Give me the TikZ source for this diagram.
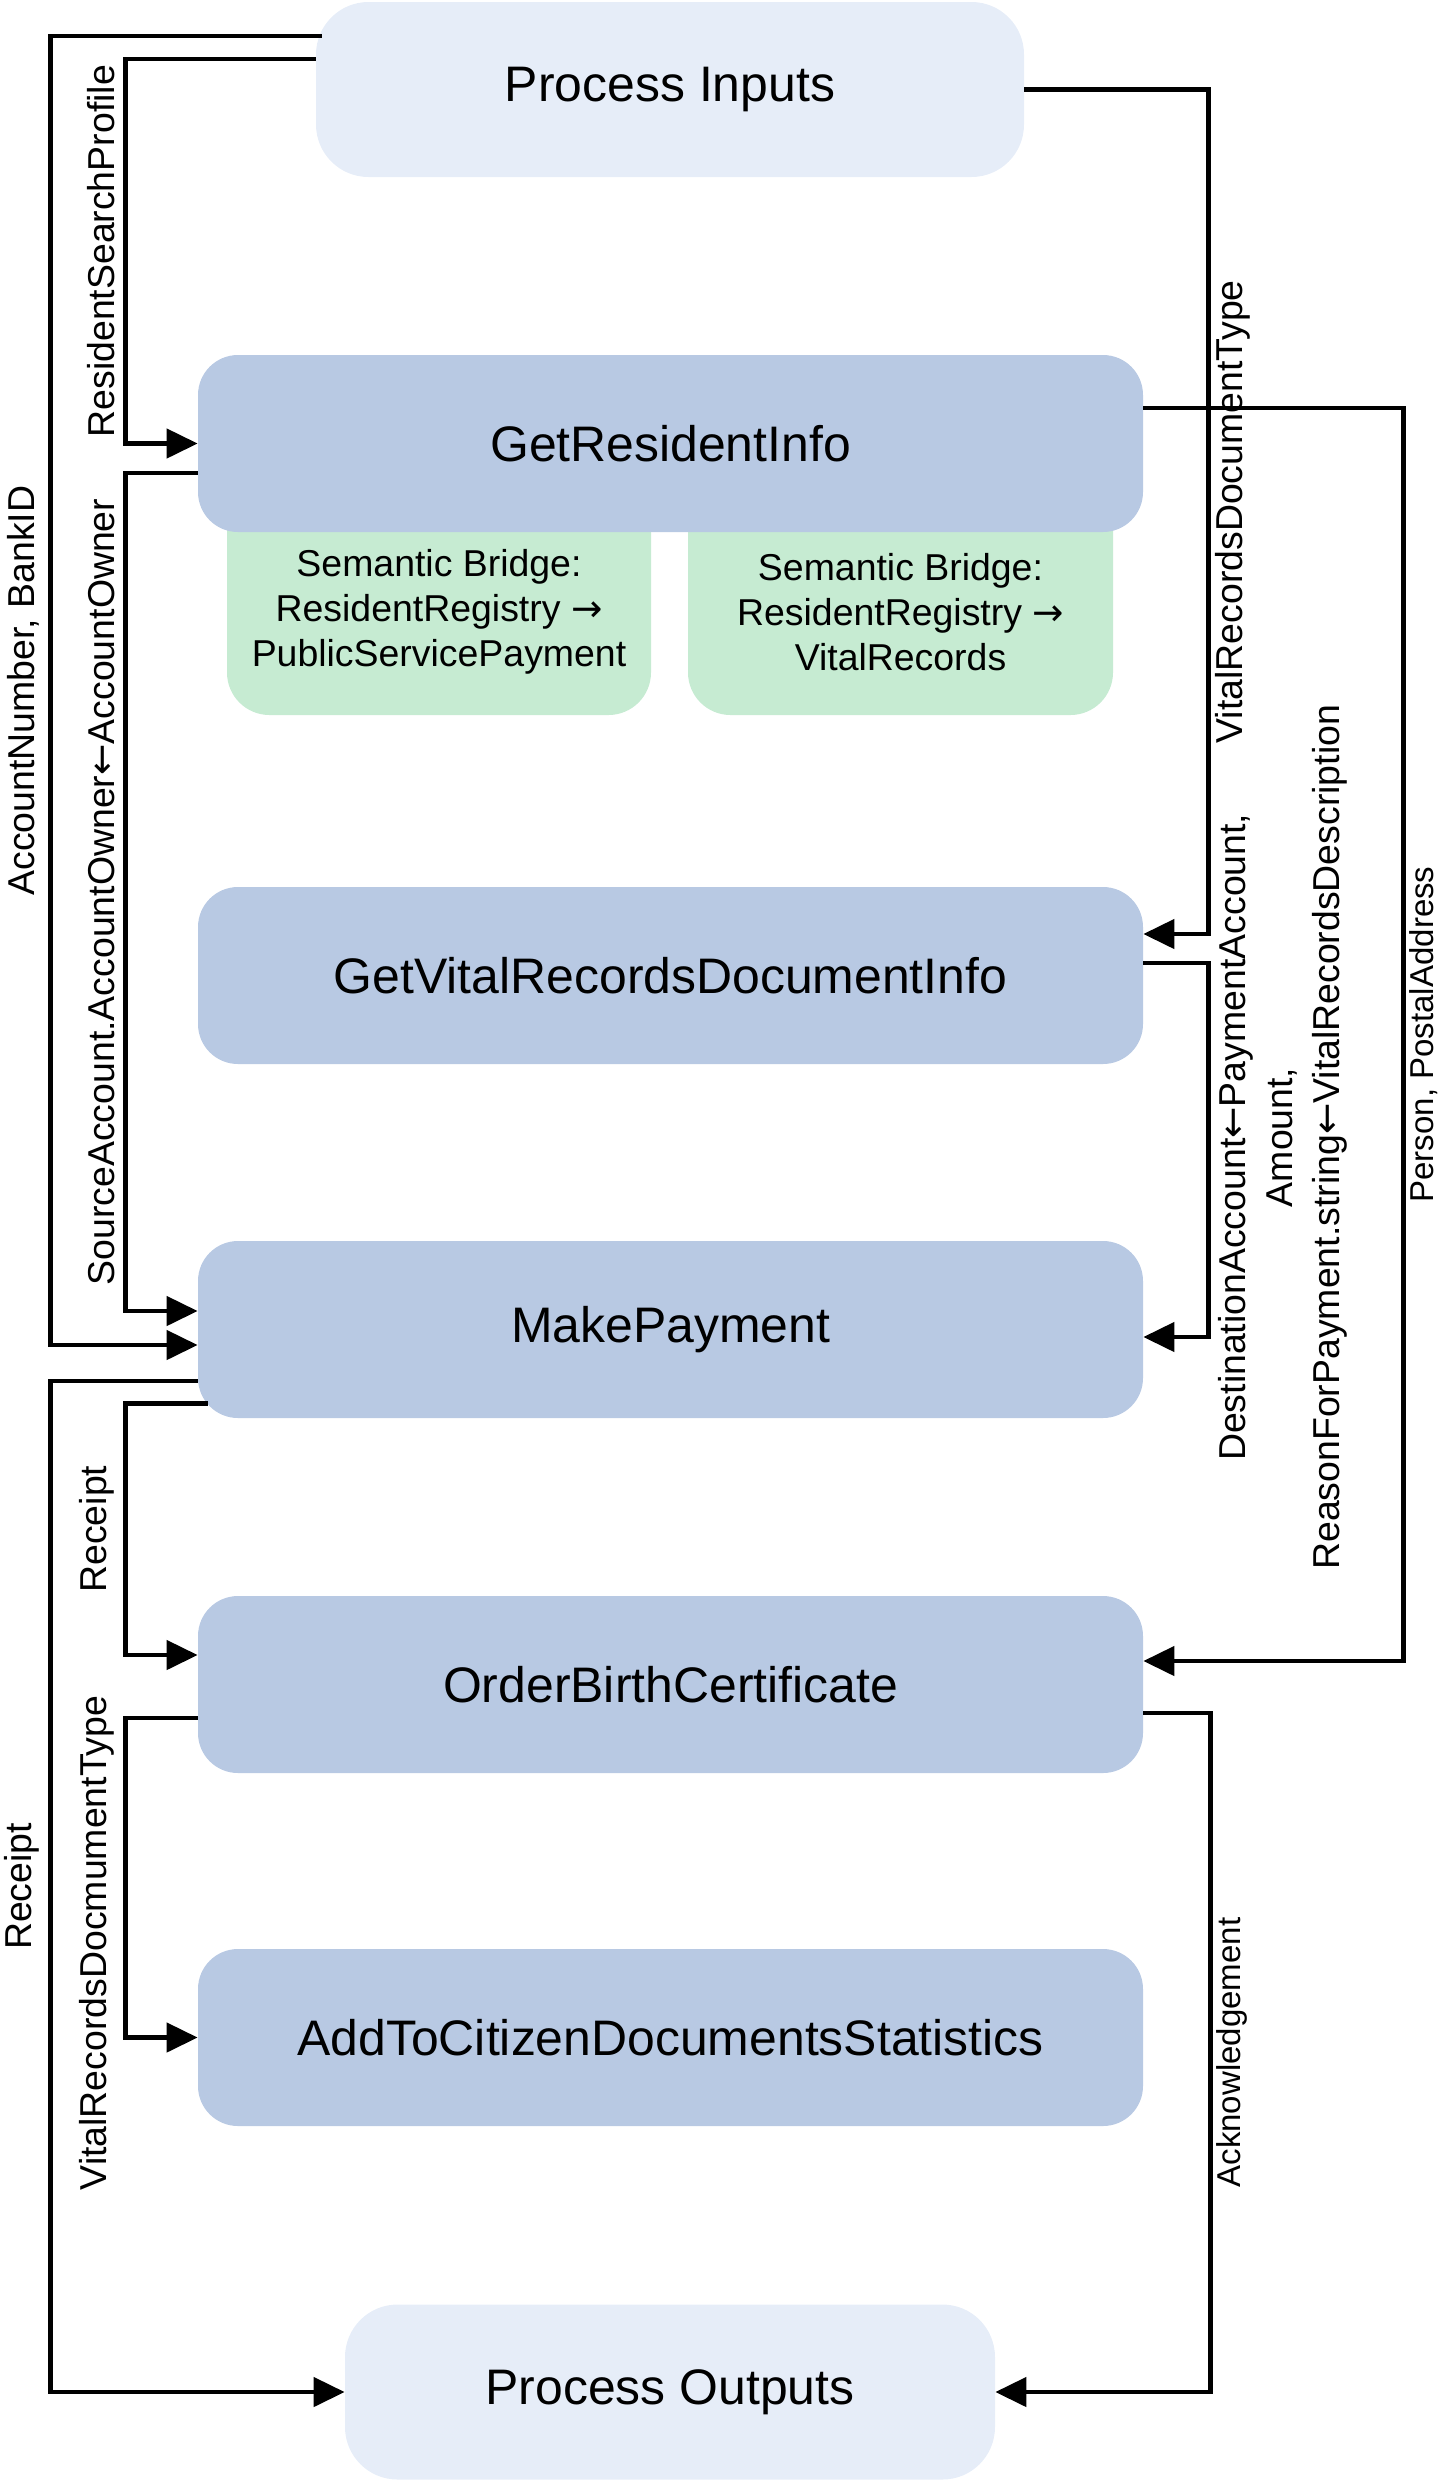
\documentclass[tikz,border=0pt]{standalone}
\usepackage{fontspec}
\setmainfont{Liberation Sans}
\newfontfamily\arrowfont{DejaVu Sans}
\newcommand\toarrow{{\arrowfont →}}
\newcommand\fromarrow{{\arrowfont ←}}
\usetikzlibrary{arrows.meta, positioning, calc}

\definecolor{taskblue}{RGB}{184,201,227}
\definecolor{iolight}{RGB}{230,237,248}
\definecolor{bridgegreen}{RGB}{198,235,210}

\begin{document}
\begin{tikzpicture}[
    task/.style={fill=taskblue, rounded corners=0.8cm, minimum width=18.9cm, minimum height=3.54cm, inner sep=0pt, font=\fontsize{28.4}{34}\selectfont},
    io/.style={fill=iolight, rounded corners=1.05cm, minimum height=3.5cm, inner sep=0pt, font=\fontsize{28.4}{34}\selectfont},
    bridge/.style={align=center, inner sep=0pt, font=\fontsize{21.3}{25.6}\selectfont},
    flow/.style={line width=0.09cm, -{Triangle[length=0.62cm,width=0.58cm]}},
    lab/.style={font=\fontsize{21.3}{26.7}\selectfont, rotate=90, inner sep=0.18cm},
    rlab/.style={font=\fontsize{21.3}{26.7}\selectfont, rotate=90, inner sep=0.1cm},
    smalllab/.style={font=\fontsize{18.8}{22}\selectfont, rotate=90, inner sep=0.08cm}
]
\useasboundingbox (0,0) rectangle (28.84,-49.64);

% semantic bridges, partly under GetResidentInfo
\fill[bridgegreen, rounded corners=0.85cm] (4.54,-9.4) rectangle (13.02,-14.3);
\fill[bridgegreen, rounded corners=0.85cm] (13.76,-9.4) rectangle (22.26,-14.3);
\node[bridge] (sbpay) at (8.78,-12.24) {Semantic Bridge:\\ResidentRegistry \toarrow\\PublicServicePayment};
\node[bridge] (sbvital) at (18.01,-12.24) {Semantic Bridge:\\ResidentRegistry \toarrow\\VitalRecords};

\node[io, minimum width=14.16cm] (pin) at (13.4,-1.79) {Process Inputs};
\node[task] (gri) at (13.41,-8.87) {GetResidentInfo};
\node[task] (gvr) at (13.41,-19.51) {GetVitalRecordsDocumentInfo};
\node[task] (mp) at (13.41,-26.59) {MakePayment};
\node[task] (obc) at (13.41,-33.69) {OrderBirthCertificate};
\node[task] (add) at (13.41,-40.75) {AddToCitizenDocumentsStatistics};
\node[io, minimum width=13cm] (pout) at (13.4,-47.84) {Process Outputs};

% left side
\draw[flow] ($(pin.west)+(0.12,1.07)$) -| node[lab,above,pos=0.75]{AccountNumber, BankID}
                ($(mp.west)+(-2.94,-0.31)$) -- ($(mp.west)+(0,-0.31)$);
\draw[flow] ($(pin.west)+(0,0.61)$) -| node[lab,above,pos=0.75]{ResidentSearchProfile}
                ($(gri.west)+(-1.44,0)$) -- (gri.west);
\draw[flow] ($(gri.west)+(0,-0.59)$) -| node[lab,above,pos=0.75]{SourceAccount.AccountOwner\fromarrow AccountOwner}
                ($(mp.west)+(-1.44,0.37)$) -- ($(mp.west)+(0,0.37)$);
\draw[flow] ($(mp.west)+(0,-1.03)$) -| node[lab,above,pos=0.75]{Receipt}
                ($(pout.west)+(-5.88,0)$) -- (pout.west);
\draw[flow] ($(mp.south west)+(0.2,0.3)$) -| node[lab,above,pos=0.75]{Receipt}
                ($(obc.west)+(-1.44,0.59)$) -- ($(obc.west)+(0,0.59)$);
\draw[flow] ($(obc.west)+(0,-0.67)$) -| node[lab,above,pos=0.852]{VitalRecordsDocmumentType}
                ($(add.west)+(-1.44,0)$) -- (add.west);

% right side
\draw[flow] (pin.east) -| node[rlab,below,pos=0.75]{VitalRecordsDocumentType}
                ($(gvr.east)+(1.3,0.83)$) -- ($(gvr.east)+(0,0.83)$);
\draw[flow] ($(gri.east)+(0,0.71)$) -| node[smalllab,below,pos=0.75]{Person, PostalAddress}
                ($(obc.east)+(5.2,0.47)$) -- ($(obc.east)+(0,0.47)$);
\draw[flow] ($(gvr.east)+(0,0.25)$) -| node[rlab,below,pos=0.733,align=center,inner sep=0.15cm]{DestinationAccount\fromarrow PaymentAccount,\\Amount,\\ReasonForPayment.string\fromarrow VitalRecordsDescription}
                ($(mp.east)+(1.3,-0.15)$) -- ($(mp.east)+(0,-0.15)$);
\draw[flow] ($(obc.east)+(0,-0.57)$) -| node[smalllab,below,pos=0.75]{Acknowledgement}
                ($(pout.east)+(4.3,0)$) -- (pout.east);
\end{tikzpicture}
\end{document}
